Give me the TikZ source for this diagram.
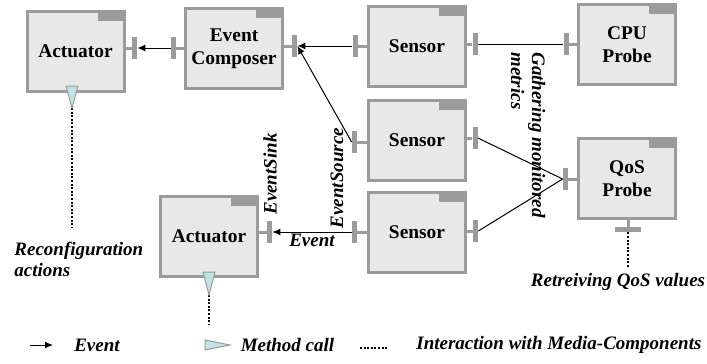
\documentclass[tikz,border=0pt]{standalone}
\usepackage{fontspec}
\setmainfont{Liberation Serif}
\usetikzlibrary{arrows.meta}

\begin{document}
\begin{tikzpicture}[x=0.5pt, y=-0.5pt]

  % Define Colors
  \definecolor{boxgray}{RGB}{155,155,155}
  \definecolor{boxfill}{RGB}{232,232,232}
  \definecolor{callcyan}{RGB}{190,228,232}

  % Node styles
  \tikzstyle{comp}=[rectangle, draw=boxgray, line width=1.5pt, fill=boxfill,
    minimum width=48.5pt, minimum height=40pt, inner sep=0pt, align=center,
    font=\bfseries\fontsize{9.7}{11.5}\selectfont,
    path picture={\fill[boxgray] (path picture bounding box.north east) rectangle ++(-13.25pt,-4.75pt);}]
  \tikzstyle{vbar}=[rectangle, fill=boxgray, inner sep=0pt, minimum width=2.5pt, minimum height=11pt]
  \tikzstyle{hbar}=[rectangle, fill=boxgray, inner sep=0pt, minimum width=13pt, minimum height=2.5pt]
  \tikzstyle{stem}=[draw=boxgray, line width=1.5pt]

  \tikzstyle{link}=[line width=0.5pt, black]
  \tikzstyle{evt}=[link, -{Latex[length=4pt, width=3.5pt]}]
  \tikzstyle{mcall}=[draw=boxgray, line width=0.5pt, fill=callcyan]
  \tikzstyle{media}=[line width=1pt, dash pattern=on 1pt off 0.8pt]
  \tikzstyle{note}=[font=\bfseries\itshape\fontsize{9.5}{10.5}\selectfont, align=left, inner sep=1pt]

  \useasboundingbox (0,0) rectangle (707,364);

  % Components
  \node[comp] (act1) at (75.5,51.5) {Actuator};
  \node[comp] (evcomp) at (234,48.5) {Event\\Composer};
  \node[comp] (sens1) at (417,46.5) {Sensor};
  \node[comp] (cpu) at (627,44.5) {CPU\\Probe};
  \node[comp] (sens2) at (417,140.5) {Sensor};
  \node[comp] (sens3) at (417,232.5) {Sensor};
  \node[comp] (qos) at (627,178.5) {QoS\\Probe};
  \node[comp] (act2) at (209,236) {Actuator};

  % Ports
  \node[vbar] (act1_p) at (134.5,48) {};
  \node[vbar] (evcomp_l) at (173.5,48) {};
  \node[vbar] (evcomp_r) at (294.5,46) {};
  \node[vbar] (sens1_l) at (355,46) {};
  \node[vbar] (sens1_r) at (475,44) {};
  \node[vbar] (cpu_l) at (566,44) {};
  \node[vbar] (sens2_l) at (354.5,142) {};
  \node[vbar] (sens2_r) at (475,138) {};
  \node[vbar] (qos_l) at (565.5,179) {};
  \node[vbar] (sens3_l) at (354.5,232) {};
  \node[vbar] (sens3_r) at (475.5,231) {};
  \node[vbar] (act2_p) at (269.5,232) {};
  \node[hbar] (qos_b) at (628,229.5) {};

  \foreach \b/\p/\s in {act1/act1_p/east, evcomp/evcomp_l/west, evcomp/evcomp_r/east,
      sens1/sens1_l/west, sens1/sens1_r/east, cpu/cpu_l/west, sens2/sens2_l/west,
      sens2/sens2_r/east, qos/qos_l/west, sens3/sens3_l/west, sens3/sens3_r/east,
      act2/act2_p/east}
    \draw[stem] (\p) -- (\p -| \b.\s);
  \draw[stem] (qos_b) -- (qos_b |- qos.south);

  % Event links
  \draw[evt] (evcomp_l.west) -- (act1_p.east);
  \draw[evt] (sens1_l.west) -- (evcomp_r.east);
  \draw[evt] (sens2_l.west) -- (evcomp_r.east);
  \draw[evt] (sens3_l.west) -- node[note, midway, below] {Event} (act2_p.east);

  % Metric links
  \draw[link] (sens1_r.east) -- (cpu_l.west);
  \draw[link] (sens2_r.east) -- (qos_l.west);
  \draw[link] (sens3_r.east) -- (qos_l.west);

  % Method calls and media interactions
  \coordinate (act1_tip) at (72,108);
  \coordinate (act1_end) at (72,227);
  \coordinate (act2_tip) at (209,295);
  \coordinate (act2_end) at (209,325);
  \coordinate (qos_end) at (628,267);

  \draw[media] (act1_tip) -- (act1_end);
  \draw[media] (act2_tip) -- (act2_end);
  \draw[media] (qos_b.south) -- (qos_end);
  \draw[mcall] (act1_tip) -- ++(-6,-22) -- ++(12,0) -- cycle;
  \draw[mcall] (act2_tip) -- ++(-6,-23) -- ++(12,0) -- cycle;

  % Labels
  \node[note, anchor=west] (recon) at (12,259) {Reconfiguration\\actions};
  \node[note] (retr) at (618,282) {Retreiving QoS values};
  \node[note, rotate=-90, anchor=west] (gather) at (528,50) {Gathering monitored\\metrics};
  \node[note, rotate=90] (esrc) at (337,178) {EventSource};
  \node[note, rotate=90] (esink) at (270,174) {EventSink};

  % Legend
  \coordinate (leg_a) at (30,345);
  \coordinate (leg_b) at (53,345);
  \coordinate (leg_c) at (360,348);
  \coordinate (leg_d) at (388,348);
  \draw[evt] (leg_a) -- (leg_b);
  \node[note] (leg_ev) at (97,345) {Event};
  \draw[mcall] (205,340) -- (230,345) -- (205,350) -- cycle;
  \node[note] (leg_mc) at (287.5,345) {Method call};
  \draw[media] (leg_c) -- (leg_d);
  \node[note, anchor=west] (leg_md) at (414,345) {Interaction with Media-Components};

\end{tikzpicture}
\end{document}
